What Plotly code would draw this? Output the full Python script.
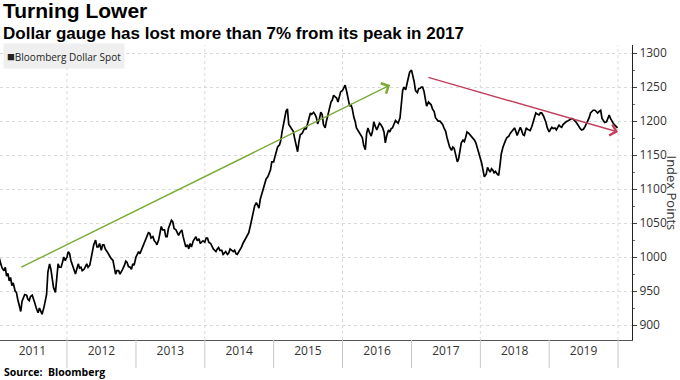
import plotly.graph_objects as go

# ---- data: Bloomberg Dollar Spot, readings on the 1st, 8th, 15th and 22nd of each month ----
v2011 = [995, 998, 990, 984,  980, 985, 972, 976,  965, 970, 958, 962,  950, 948, 938, 928,
         920, 935, 942, 945,  944, 938, 936, 942,  944, 936, 932, 925,  918, 925, 920, 916,
         926, 935, 945, 978,  990, 982, 970, 955,  948, 975, 990, 985,  985, 992, 1000, 995]
v2012 = [1000, 1008, 1005, 995,  985, 980, 975, 982,  990, 984, 985, 980,  982, 986, 990, 985,
         988, 998, 1008, 1018,  1025, 1015, 1015, 1020,  1010, 1018, 1018, 1012,  1008, 1004, 1002, 998,
         995, 982, 975, 980,  980, 975, 978, 982,  988, 994, 992, 986,  985, 982, 990, 988]
v2013 = [1000, 1004, 1008, 1005,  1012, 1018, 1022, 1028,  1030, 1036, 1035, 1028,  1030, 1024, 1022, 1018,
         1025, 1035, 1045, 1040,  1040, 1030, 1030, 1042,  1050, 1054, 1052, 1042,  1040, 1036, 1032, 1036,
         1040, 1030, 1022, 1015,  1018, 1012, 1020, 1015,  1024, 1028, 1030, 1024,  1027, 1020, 1022, 1024]
v2014 = [1022, 1028, 1028, 1022,  1020, 1015, 1012, 1010,  1008, 1012, 1014, 1010,  1010, 1004, 1006, 1008,
         1004, 1006, 1012, 1010,  1008, 1010, 1005, 1004,  1008, 1010, 1015, 1020,  1025, 1028, 1032, 1036,
         1048, 1058, 1068, 1075,  1080, 1076, 1072, 1085,  1095, 1102, 1108, 1115,  1118, 1125, 1128, 1140]
v2015 = [1140, 1148, 1155, 1162,  1165, 1172, 1185, 1198,  1205, 1215, 1218, 1195,  1191, 1188, 1185, 1175,
         1160, 1155, 1170, 1180,  1182, 1185, 1190, 1188,  1198, 1205, 1212, 1210,  1213, 1210, 1206, 1196,
         1204, 1213, 1210, 1195,  1190, 1200, 1209, 1216,  1228, 1231, 1238, 1236,  1234, 1228, 1236, 1243]
v2016 = [1245, 1250, 1253, 1245,  1228, 1222, 1224, 1218,  1206, 1200, 1190, 1187,  1182, 1178, 1176, 1165,
         1158, 1182, 1190, 1184,  1178, 1185, 1199, 1193,  1187, 1192, 1197, 1195,  1190, 1184, 1168, 1178,
         1187, 1184, 1189, 1190,  1195, 1201, 1199, 1197,  1205, 1232, 1245, 1250,  1246, 1255, 1266, 1272]
v2017 = [1275, 1268, 1258, 1245,  1242, 1248, 1248, 1250,  1250, 1244, 1232, 1222,  1228, 1225, 1224, 1218,
         1214, 1205, 1202, 1200,  1200, 1198, 1195, 1190,  1185, 1176, 1170, 1162,  1157, 1162, 1160, 1152,
         1140, 1145, 1158, 1168,  1172, 1170, 1176, 1184,  1182, 1180, 1178, 1175,  1172, 1168, 1160, 1152]
v2018 = [1145, 1138, 1125, 1118,  1122, 1132, 1128, 1125,  1130, 1128, 1124, 1126,  1122, 1120, 1135, 1152,
         1162, 1168, 1172, 1176,  1178, 1182, 1184, 1186,  1190, 1185, 1179, 1184,  1191, 1186, 1180, 1179,
         1190, 1188, 1187, 1186,  1192, 1199, 1206, 1212,  1210, 1209, 1212, 1212,  1208, 1204, 1198, 1190]
v2019 = [1184, 1188, 1191, 1189,  1190, 1187, 1192, 1194,  1192, 1191, 1195, 1197,  1199, 1200, 1201, 1203,
         1204, 1203, 1200, 1199,  1195, 1191, 1189, 1187,  1188, 1191, 1195, 1199,  1205, 1212, 1214, 1216,
         1216, 1214, 1212, 1214,  1216, 1204, 1200, 1198,  1199, 1204, 1209, 1204,  1199, 1196, 1194, 1192]
year_series = {2011: v2011, 2012: v2012, 2013: v2013, 2014: v2014, 2015: v2015,
               2016: v2016, 2017: v2017, 2018: v2018, 2019: v2019}
reading_days = [1, 8, 15, 22]
last_date = "2019-12-29"
last_value = 1190

year_labels = ["2011", "2012", "2013", "2014", "2015", "2016", "2017", "2018", "2019"]
separator_years = [2012, 2013, 2014, 2015, 2016, 2017, 2018, 2019, 2020]
grid_years = [2012, 2014, 2016, 2018, 2020]
y_ticks = [900, 950, 1000, 1050, 1100, 1150, 1200, 1250, 1300]

dates, values = [], []
for yr, vals in year_series.items():
    for i, v in enumerate(vals):
        m = i // 4 + 1
        d = reading_days[i % 4]
        dates.append(f"{yr}-{m:02d}-{d:02d}")
        values.append(v)
dates.append(last_date)
values.append(last_value)

FONT = "Open Sans"
TITLE_FONT = "Liberation Sans"
GRID = "#dadada"
fig = go.Figure()
fig.add_trace(go.Scatter(x=dates, y=values, mode="lines",
                         line=dict(color="black", width=1.7),
                         showlegend=False, hoverinfo="skip"))

# vertical dotted grid lines every two years
for gy in grid_years:
    fig.add_shape(type="line", xref="x", yref="paper",
                  x0=f"{gy}-01-01", x1=f"{gy}-01-01", y0=0, y1=1,
                  line=dict(color=GRID, width=1, dash="dot"), layer="below")

# year separators below the axis
for sy in separator_years:
    fig.add_shape(type="line", xref="x", yref="paper",
                  x0=f"{sy}-01-01", x1=f"{sy}-01-01", y0=0, y1=-0.095,
                  line=dict(color="#c8c8c8", width=1))

# arrows
fig.add_annotation(x="2016-09-10", y=1253, ax="2011-04-26", ay=984,
                   xref="x", yref="y", axref="x", ayref="y", text="",
                   showarrow=True, arrowhead=4, arrowsize=1.6, arrowwidth=1.4,
                   arrowcolor="#7aab35")
fig.add_annotation(x="2020-01-01", y=1184, ax="2017-03-23", ay=1265,
                   xref="x", yref="y", axref="x", ayref="y", text="",
                   showarrow=True, arrowhead=4, arrowsize=1.6, arrowwidth=1.4,
                   arrowcolor="#c2405e")

# titles
fig.add_annotation(text="<b>Turning Lower</b>", xref="paper", yref="paper",
                   x=0, y=1.117, xanchor="left", yanchor="middle", xshift=1,
                   showarrow=False, font=dict(family=TITLE_FONT, size=21, color="black"))
fig.add_annotation(text="<b>Dollar gauge has lost more than 7% from its peak in 2017</b>",
                   xref="paper", yref="paper", x=0, y=1.040, xanchor="left",
                   yanchor="middle", xshift=1, showarrow=False,
                   font=dict(family=TITLE_FONT, size=17, color="black"))
fig.add_annotation(text="<b>Source:  Bloomberg</b>", xref="paper", yref="paper",
                   x=0, y=-0.108, xanchor="left", yanchor="middle", xshift=2,
                   showarrow=False, font=dict(family=FONT, size=10.5, color="black"))
# legend box
fig.add_annotation(text="<span style='font-size:13px'>■</span>Bloomberg Dollar Spot",
                   xref="paper", yref="paper",
                   x=0, y=0.963, xanchor="left", yanchor="middle", xshift=3,
                   showarrow=False, bgcolor="#efefef", borderpad=3,
                   font=dict(family=FONT, size=10, color="#222"))
# y axis title
fig.add_annotation(text="Index Points", xref="paper", yref="paper",
                   x=1, y=0.5, xanchor="center", yanchor="middle", xshift=40,
                   textangle=90, showarrow=False,
                   font=dict(family=FONT, size=13, color="#333"))

fig.update_layout(
    width=680, height=380,
    margin=dict(l=0, r=48, t=45, b=40),
    plot_bgcolor="white", paper_bgcolor="white",
    font=dict(family=FONT, size=12, color="#333"),
    xaxis=dict(range=["2011-01-11", "2020-03-15"],
               tickvals=[f"{y}-07-02" for y in year_labels], ticktext=year_labels,
               ticks="", showgrid=False, zeroline=False,
               showline=True, linecolor="#555", linewidth=1,
               tickfont=dict(family=FONT, size=12, color="#333")),
    yaxis=dict(side="right", range=[878, 1312], tickvals=y_ticks,
               showgrid=True, gridcolor=GRID, griddash="dot", gridwidth=1,
               zeroline=False, showline=True, linecolor="#222", linewidth=1,
               ticks="outside", ticklen=4, tickcolor="#444",
               minor=dict(dtick=25, ticks="outside", ticklen=2, tickcolor="#666", showgrid=False),
               tickfont=dict(family=FONT, size=12, color="#333")),
)

fig.write_html("out.html", config={"displayModeBar": False},
               post_script="document.body.style.margin='0';")
